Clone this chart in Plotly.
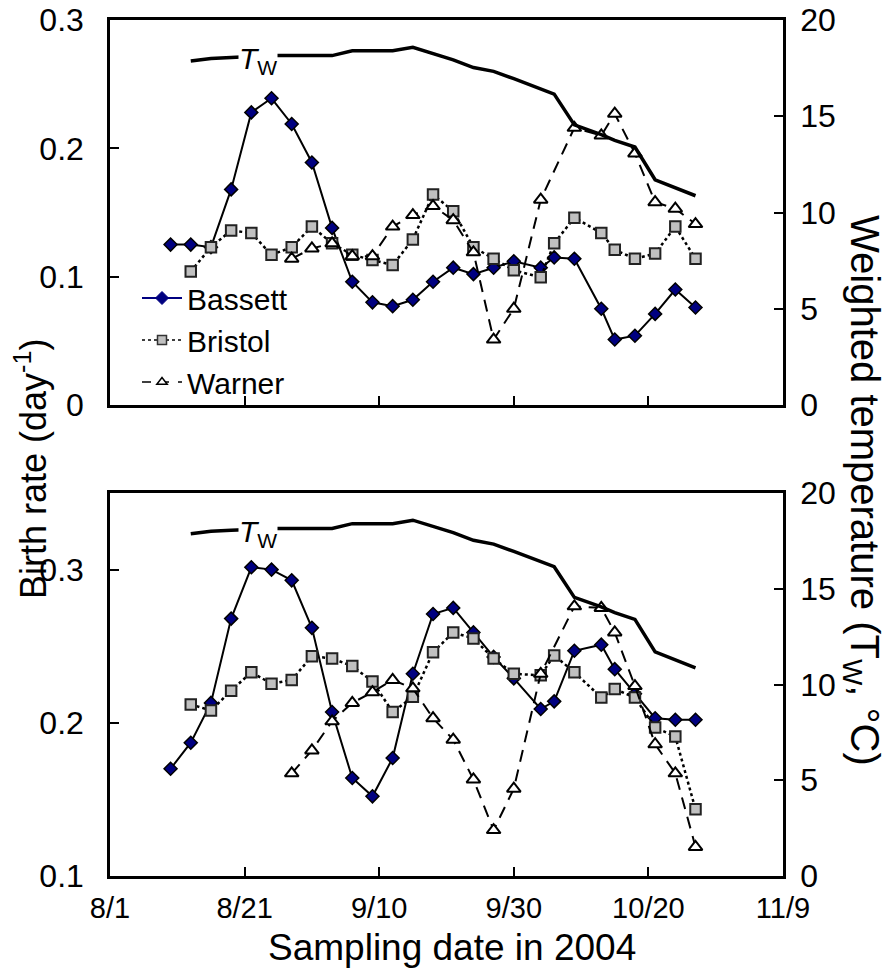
import plotly.graph_objects as go

# ---------------- data ----------------
dates_bassett = ["2004-08-10", "2004-08-13", "2004-08-16", "2004-08-19", "2004-08-22", "2004-08-25",
                 "2004-08-28", "2004-08-31", "2004-09-03", "2004-09-06", "2004-09-09", "2004-09-12",
                 "2004-09-15", "2004-09-18", "2004-09-21", "2004-09-24", "2004-09-27", "2004-09-30",
                 "2004-10-04", "2004-10-06", "2004-10-09", "2004-10-13", "2004-10-15", "2004-10-18",
                 "2004-10-21", "2004-10-24", "2004-10-27"]
dates_bristol = dates_bassett[1:]
dates_warner = ["2004-08-28", "2004-08-31", "2004-09-03", "2004-09-06", "2004-09-09", "2004-09-12",
                "2004-09-15", "2004-09-18", "2004-09-21", "2004-09-24", "2004-09-27", "2004-09-30",
                "2004-10-04", "2004-10-09", "2004-10-13", "2004-10-15", "2004-10-18", "2004-10-21",
                "2004-10-24", "2004-10-27"]
dates_tw = dates_bristol

# top panel
top_bassett = [0.125, 0.125, 0.123, 0.168, 0.228, 0.239, 0.219, 0.189, 0.138, 0.096, 0.080, 0.077,
               0.082, 0.096, 0.107, 0.102, 0.107, 0.112, 0.107, 0.115, 0.114, 0.075, 0.051, 0.054,
               0.071, 0.090, 0.076]
top_bristol = [0.104, 0.123, 0.136, 0.134, 0.117, 0.123, 0.139, 0.126, 0.117, 0.113, 0.109, 0.129,
               0.164, 0.151, 0.123, 0.114, 0.105, 0.0995, 0.126, 0.146, 0.134, 0.121, 0.114, 0.118,
               0.139, 0.114]
top_warner = [0.114, 0.122, 0.126, 0.116, 0.116, 0.139, 0.148, 0.155, 0.144, 0.119, 0.051, 0.075,
              0.160, 0.216, 0.210, 0.227, 0.196, 0.158, 0.153, 0.141]

# bottom panel
bot_bassett = [0.170, 0.187, 0.213, 0.268, 0.3015, 0.300, 0.293, 0.262, 0.207, 0.164, 0.152, 0.177,
               0.232, 0.271, 0.275, 0.259, 0.243, 0.229, 0.209, 0.214, 0.247, 0.251, 0.235, 0.219,
               0.203, 0.202, 0.202]
bot_bristol = [0.212, 0.208, 0.221, 0.233, 0.2255, 0.228, 0.2435, 0.242, 0.237, 0.227, 0.207, 0.217,
               0.246, 0.259, 0.255, 0.242, 0.232, 0.231, 0.244, 0.233, 0.2165, 0.222, 0.2165, 0.197,
               0.191, 0.1435]
bot_warner = [0.167, 0.182, 0.201, 0.213, 0.220, 0.228, 0.2225, 0.203, 0.189, 0.163, 0.130, 0.157,
              0.232, 0.276, 0.275, 0.259, 0.224, 0.186, 0.167, 0.119]

# weighted temperature (same in both panels)
tw_values = [17.87, 18.0, 18.05, 18.1, 18.15, 18.15, 18.15, 18.15, 18.4, 18.4, 18.4, 18.58,
             18.25, 17.93, 17.53, 17.33, 16.95, 16.42, 16.15, 14.55, 14.05, 13.75, 13.4, 11.7,
             11.3, 10.87]

x_tickvals = ["2004-08-01", "2004-08-21", "2004-09-10", "2004-09-30", "2004-10-20", "2004-11-09"]
x_ticktext = ["8/1", "8/21", "9/10", "9/30", "10/20", "11/9"]

# ---------------- styles ----------------
FONT = "Liberation Sans, Arial, sans-serif"
NAVY = "#000080"
bassett_style = dict(mode="lines+markers", line=dict(color="black", width=2),
                     marker=dict(symbol="diamond", size=10, color=NAVY, line=dict(color="black", width=1.5)))
bristol_style = dict(mode="lines+markers", line=dict(color="black", width=2.5, dash="dot"),
                     marker=dict(symbol="square", size=10.5, color="#c0c0c0", line=dict(color="#222222", width=2)))
warner_style = dict(mode="lines+markers", line=dict(color="black", width=2, dash="12px,8px"),
                    marker=dict(symbol="triangle-up", size=12, color="white", line=dict(color="black", width=2)))
tw_style = dict(mode="lines", line=dict(color="black", width=3.5))

fig = go.Figure()

panels = [
    ("x", "y", "y2", top_bassett, top_bristol, top_warner),
    ("x2", "y3", "y4", bot_bassett, bot_bristol, bot_warner),
]
for xa, ya, ya2, b, br, w in panels:
    fig.add_trace(go.Scatter(x=dates_bassett, y=b, xaxis=xa, yaxis=ya, showlegend=False, **bassett_style))
    fig.add_trace(go.Scatter(x=dates_bristol, y=br, xaxis=xa, yaxis=ya, showlegend=False, **bristol_style))
    fig.add_trace(go.Scatter(x=dates_warner, y=w, xaxis=xa, yaxis=ya, showlegend=False, **warner_style))
    fig.add_trace(go.Scatter(x=dates_tw, y=tw_values, xaxis=xa, yaxis=ya2, showlegend=False, **tw_style))

# legend entries
fig.add_trace(go.Scatter(x=[None], y=[None], name="Bassett", mode="lines+markers",
                         line=dict(color=NAVY, width=2),
                         marker=dict(symbol="diamond", size=10, color=NAVY, line=dict(color=NAVY, width=1))))
fig.add_trace(go.Scatter(x=[None], y=[None], name="Bristol", mode="lines+markers",
                         line=dict(color="black", width=1.5, dash="dot"),
                         marker=dict(symbol="square", size=9, color="#c0c0c0", line=dict(color="#333333", width=1.5))))
fig.add_trace(go.Scatter(x=[None], y=[None], name="Warner", mode="lines+markers",
                         line=dict(color="black", width=1.5, dash="dash"),
                         marker=dict(symbol="triangle-up", size=9, color="white", line=dict(color="black", width=1.5))))

W, H = 888, 975
xdom = [110 / W, 783 / W]
top_dom = [(H - 405) / H, (H - 20) / H]
bot_dom = [(H - 876) / H, (H - 493) / H]

axis_common = dict(showline=True, linewidth=2.5, linecolor="black", ticks="inside", ticklen=9,
                   tickwidth=2, tickcolor="black", showgrid=False, zeroline=False, automargin=False,
                   tickfont=dict(family=FONT, size=32, color="black"))

xcommon = dict(axis_common, type="date", range=["2004-08-01", "2004-11-09"], domain=xdom,
               tickvals=x_tickvals, ticktext=x_ticktext, mirror=True,
               tickfont=dict(family=FONT, size=29, color="black"))

fig.update_layout(
    width=W, height=H, margin=dict(l=0, r=0, t=0, b=0, autoexpand=False),
    paper_bgcolor="white", plot_bgcolor="white",
    font=dict(family=FONT, color="black"),
    xaxis=dict(xcommon, anchor="y", showticklabels=False),
    xaxis2=dict(xcommon, anchor="y3", ticklabelstandoff=4),
    yaxis=dict(axis_common, domain=top_dom, anchor="x", range=[0, 0.3],
               tickvals=[0, 0.1, 0.2, 0.3], ticktext=["0", "0.1", "0.2", "0.3"], ticklabelstandoff=17),
    yaxis2=dict(axis_common, domain=top_dom, anchor="x", overlaying="y", side="right", range=[0, 20],
                tickvals=[0, 5, 10, 15, 20], ticktext=["0", "5", "10", "15", "20"], ticklabelstandoff=8),
    yaxis3=dict(axis_common, domain=bot_dom, anchor="x2", range=[0.1, 0.35],
                tickvals=[0.1, 0.2, 0.3], ticktext=["0.1", "0.2", "0.3"], ticklabelstandoff=17),
    yaxis4=dict(axis_common, domain=bot_dom, anchor="x2", overlaying="y3", side="right", range=[0, 20],
                tickvals=[0, 5, 10, 15, 20], ticktext=["0", "5", "10", "15", "20"], ticklabelstandoff=8),
    legend=dict(x=137 / W, y=(H - 272) / H, xanchor="left", yanchor="top",
                bgcolor="rgba(0,0,0,0)", font=dict(family=FONT, size=30, color="black"),
                tracegroupgap=0, itemwidth=40),
    annotations=[
        dict(text="<i>T</i><sub>W</sub>", x="2004-08-23", y=17.9, xref="x", yref="y2", showarrow=False,
             font=dict(family=FONT, size=30, color="black"), bgcolor="white", borderpad=0),
        dict(text="<i>T</i><sub>W</sub>", x="2004-08-23", y=17.9, xref="x2", yref="y4", showarrow=False,
             font=dict(family=FONT, size=30, color="black"), bgcolor="white", borderpad=0),
        dict(text="Sampling date in 2004", x=452 / W, y=(H - 947) / H, xref="paper", yref="paper",
             xanchor="center", yanchor="middle",
             showarrow=False, font=dict(family=FONT, size=37, color="black")),
        dict(text="Birth rate (day<sup>-1</sup>)", x=31 / W, y=(H - 469) / H, xref="paper", yref="paper",
             xanchor="center", yanchor="middle",
             showarrow=False, textangle=-90, font=dict(family=FONT, size=36, color="black")),
        dict(text="Weighted temperature (T<sub>W</sub>, °C)", x=862 / W, y=(H - 490) / H, xref="paper",
             yref="paper", xanchor="center", yanchor="middle",
             showarrow=False, textangle=90, font=dict(family=FONT, size=40, color="black")),
    ],
)

fig.write_html("out.html")
